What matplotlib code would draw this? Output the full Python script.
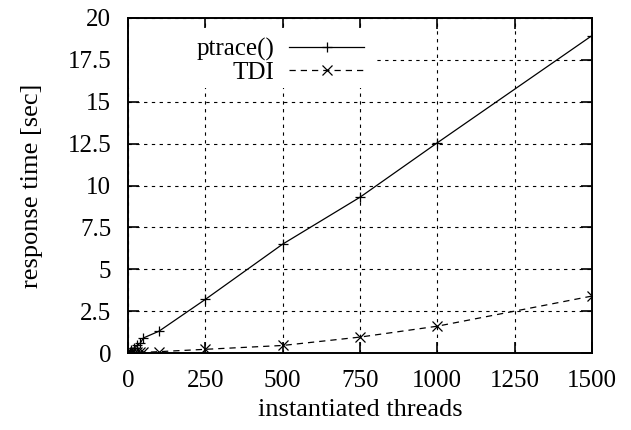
import matplotlib
matplotlib.use("Agg")
import matplotlib.pyplot as plt
from matplotlib.ticker import FuncFormatter, MultipleLocator
from matplotlib.patches import Rectangle

threads = [1, 5, 10, 20, 30, 40, 50, 100, 250, 500, 750, 1000, 1500]
ptrace = [0.02, 0.08, 0.15, 0.3, 0.45, 0.6, 0.9, 1.3, 3.2, 6.5, 9.3, 12.55, 18.95]
tdi = [0.01, 0.01, 0.02, 0.02, 0.03, 0.03, 0.04, 0.08, 0.22, 0.45, 0.95, 1.6, 3.4]

plt.rcParams['font.family'] = ['Liberation Serif', 'DejaVu Serif']
fs = 18
lfs = 19

fig = plt.figure(figsize=(6.31, 4.30), dpi=100)
ax = fig.add_axes([128/631, 1-353/430, (592-128)/631, (353-18)/430])

ax.plot(threads, ptrace, color='black', lw=0.9, marker='+', ms=7, mew=0.9,
        label='ptrace()', zorder=3)
ax.plot(threads, tdi, color='black', lw=0.9, ls=(0, (5, 4)), marker='x', ms=7,
        mew=0.9, label='TDI', zorder=3)

ax.set_xlim(0, 1500)
ax.set_ylim(0, 20)
ax.xaxis.set_major_locator(MultipleLocator(250))
ax.yaxis.set_major_locator(MultipleLocator(2.5))
ax.yaxis.set_major_formatter(FuncFormatter(lambda v, p: f"{v:g}"))
ax.tick_params(direction='in', length=8, width=1.2, top=True, right=True,
               labelsize=fs, color='black')
ax.tick_params(axis='x', pad=12.5)
ax.tick_params(axis='y', pad=12)
ax.set_axisbelow(True)
ax.grid(True, color='black', lw=0.8, ls=(0, (3, 4)))
for s in ax.spines.values():
    s.set_linewidth(1.4)

ax.set_xlabel('instantiated threads', fontsize=lfs, labelpad=4.5)
ax.set_ylabel('response time [sec]', fontsize=lfs, labelpad=18)

# opaque key area (as in gnuplot)
ax.add_patch(Rectangle((0.002, 0.79), 0.535, 0.18, transform=ax.transAxes,
                       facecolor='white', edgecolor='none', zorder=1))

leg = ax.legend(loc='upper right', bbox_to_anchor=(0.52, 0.955),
                markerfirst=False, frameon=False, fontsize=fs,
                handlelength=3.0, handletextpad=0.6, labelspacing=0.0,
                borderpad=0.2, borderaxespad=0)

fig.savefig('out.png', dpi=100)
